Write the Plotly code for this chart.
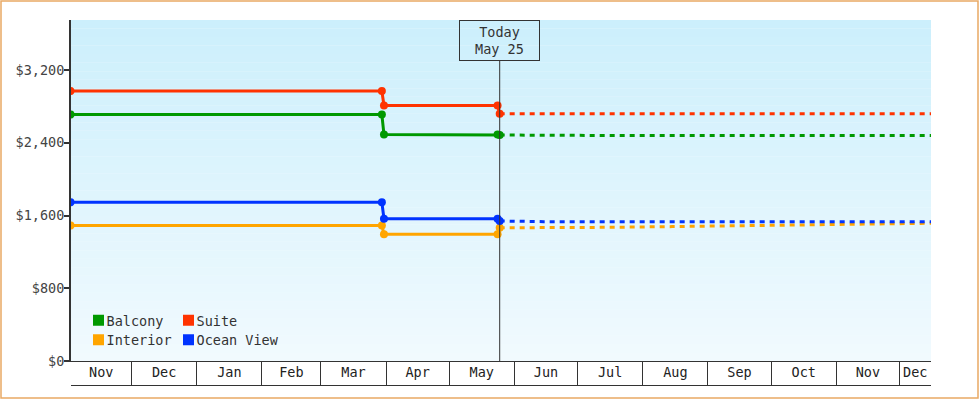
import pandas as pd
import plotly.graph_objects as go

# Price history (solid) and forecast (dashed) per cabin type
hist_dates = ["2022-11-02", "2023-03-30", "2023-03-31", "2023-05-24", "2023-05-25"]
balcony_hist = [2710, 2710, 2490, 2490, 2485]
suite_hist = [2970, 2970, 2810, 2810, 2720]
interior_hist = [1490, 1490, 1395, 1395, 1465]
ocean_hist = [1745, 1745, 1565, 1565, 1540]

fc_dates = ["2023-05-25", "2023-06-15", "2023-07-15", "2023-08-15",
            "2023-09-15", "2023-10-15", "2023-11-15", "2023-12-16"]
balcony_fc = [2485, 2480, 2480, 2480, 2480, 2480, 2480, 2480]
suite_fc = [2720, 2720, 2720, 2720, 2720, 2720, 2720, 2720]
interior_fc = [1465, 1465, 1470, 1478, 1488, 1498, 1505, 1515]
ocean_fc = [1540, 1532, 1532, 1532, 1532, 1532, 1532, 1532]

today = "2023-05-25"
x_start, x_end = "2022-11-02 06:00", "2023-12-16"
y_ticks = [0, 800, 1600, 2400, 3200]

series = [
    ("Balcony", "#009900", balcony_hist, balcony_fc),
    ("Suite", "#ff3300", suite_hist, suite_fc),
    ("Interior", "#ffa500", interior_hist, interior_fc),
    ("Ocean View", "#0033ff", ocean_hist, ocean_fc),
]

FONT = "DejaVu Sans Mono"
FS = 13.5
W, H = 980, 400
L, R, T, B = 71, 49, 20, 39
pw, ph = W - L - R, H - T - B

fig = go.Figure()

# legend grid: 2 columns x 2 rows, bottom left of the plot (swatch left edges)
leg_x = [93, 183]
leg_y = [320.5, 340]
legends = {}

for i, (name, color, hist, fc) in enumerate(series):
    fig.add_trace(go.Scatter(
        x=fc_dates, y=fc, mode="lines", showlegend=False, xaxis="x2",
        line=dict(color=color, width=3, dash="5px,5px"),
    ))
    fig.add_trace(go.Scatter(
        x=hist_dates, y=hist, mode="lines+markers", showlegend=False,
        line=dict(color=color, width=3),
        marker=dict(color=color, size=8),
    ))
    key = "legend" if i == 0 else "legend%d" % (i + 1)
    # legend swatch only, nudged next to its label
    fig.add_trace(go.Scatter(
        x=[None], y=[None], mode="markers", name=name,
        marker=dict(color=color, size=11, symbol="square", angle=90, standoff=12),
        legend=key,
    ))
    legends[key] = dict(
        x=(leg_x[i % 2] - 12.5 - L) / pw, y=(H - B - leg_y[i // 2]) / ph,
        xanchor="left", yanchor="middle", bgcolor="rgba(0,0,0,0)",
        indentation=-14, font=dict(family=FONT, size=FS, color="#333"),
    )

# month boxes under the axis
months = pd.date_range("2022-11-01", "2024-01-01", freq="MS")
bounds = [m for m in months if pd.Timestamp(x_start) < m < pd.Timestamp(x_end)]
mids, names = [], []
for a, b in zip(months[:-1], months[1:]):
    lo = max(a, pd.Timestamp(x_start))
    hi = min(b, pd.Timestamp(x_end))
    if lo < hi:
        mids.append(lo + (hi - lo) / 2)
        names.append(a.strftime("%b"))

# gradient background
top, bot = (204, 239, 252), (241, 250, 254)
n = 40
shapes = []
for k in range(n):
    f = (k + 0.5) / n
    c = tuple(round(bot[j] + (top[j] - bot[j]) * f) for j in range(3))
    shapes.append(dict(type="rect", xref="x domain", yref="y domain",
                       x0=0, x1=1, y0=k / n, y1=(k + 1) / n, layer="below",
                       line_width=0, fillcolor="rgb(%d,%d,%d)" % c))

# today line below the label box
box_bottom = (H - B - 61) / ph
shapes.append(dict(type="line", xref="x", yref="y domain", x0=today, x1=today,
                   y0=0, y1=box_bottom, line=dict(color="#333", width=1)))
# bottom of month boxes
shapes.append(dict(type="line", xref="x domain", yref="paper", x0=0, x1=1,
                   y0=-24.5 / ph, y1=-24.5 / ph, line=dict(color="#333", width=1)))
# orange frame around the figure
shapes.append(dict(type="rect", xref="paper", yref="paper",
                   x0=-(L - 1) / pw, x1=1 + (R - 2) / pw,
                   y0=-(B - 2) / ph, y1=1 + (T - 1) / ph,
                   line=dict(color="#e9a964", width=1.5)))

fig.add_annotation(
    x=today, y=1, xref="x", yref="paper", yanchor="top",
    text="Today<br>" + pd.Timestamp(today).strftime("%b %d"),
    showarrow=False, font=dict(family=FONT, size=FS, color="#333"),
    bordercolor="#333", borderwidth=1, borderpad=3, width=73, height=33,
)

fig.update_layout(
    width=W, height=H,
    margin=dict(l=L, r=R, t=T, b=B),
    paper_bgcolor="white",
    plot_bgcolor="rgb(241,250,254)",
    font=dict(family=FONT, size=FS, color="#333"),
    shapes=shapes,
    xaxis=dict(
        range=[x_start, x_end], tickvals=bounds, showticklabels=False,
        ticks="outside", ticklen=24, tickcolor="#333", tickwidth=1,
        showline=True, linecolor="#333", linewidth=1, showgrid=False,
        zeroline=False,
    ),
    xaxis2=dict(
        overlaying="x", anchor="y", side="bottom", range=[x_start, x_end],
        tickvals=mids, ticktext=names, ticks="", showgrid=False,
        showline=False, zeroline=False, ticklabelstandoff=1,
        tickfont=dict(family=FONT, size=FS, color="#222"),
    ),
    yaxis=dict(
        range=[0, 3750], tickvals=y_ticks, tickformat="$,.0f",
        ticks="outside", ticklen=5, tickwidth=2, tickcolor="#333",
        ticklabelstandoff=-3,
        showline=True, linecolor="#333", linewidth=2, showgrid=False,
        zeroline=False, tickfont=dict(family=FONT, size=FS, color="#444"),
    ),
    **legends,
)

fig.write_html("out.html", config={"displayModeBar": False},
               post_script="document.body.style.margin='0px';")
